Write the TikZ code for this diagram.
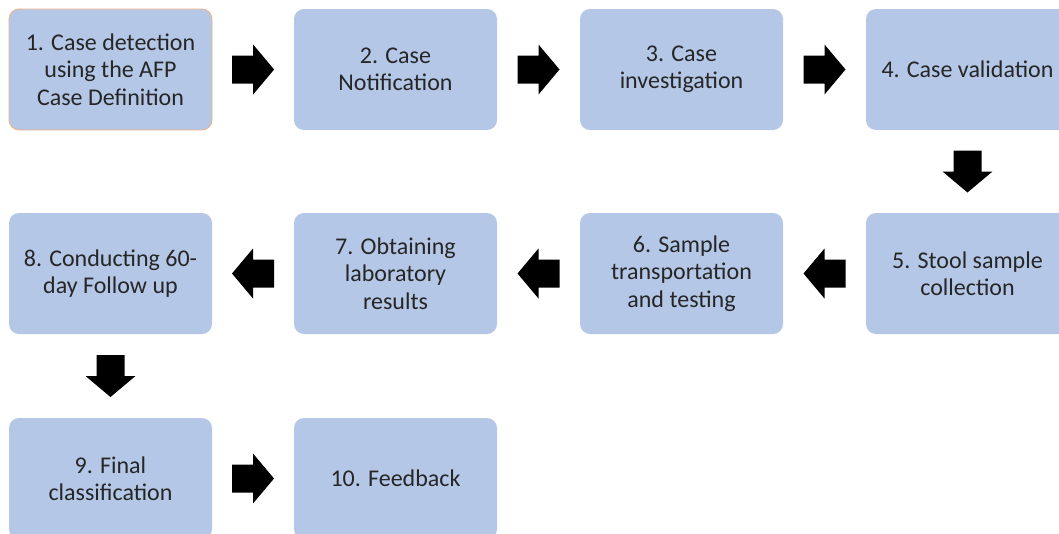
\documentclass[tikz,border=0pt]{standalone}
\usepackage{fontspec}
\setmainfont{Carlito}
\usetikzlibrary{calc}
\definecolor{boxfill}{HTML}{B4C7E7}
\definecolor{boxedge}{HTML}{F4B183}
\definecolor{txt}{HTML}{262626}
\tikzset{
  stepbox/.style={rectangle, rounded corners=10pt, fill=boxfill, draw=none,
    minimum width=203pt, minimum height=121pt, inner sep=0pt,
    align=center, text=txt, font=\fontsize{24}{27.5}\selectfont},
  firstbox/.style={stepbox, draw=boxedge, line width=0.8pt},
  blockarrow/.pic={
    \fill[black] (-21,-14) -- (0,-14) -- (0,-25) -- (21,0) -- (0,25) -- (0,14) -- (-21,14) -- cycle;
  }
}
\begin{document}
\begin{tikzpicture}[x=1pt,y=-1pt]
  \clip (0,0) rectangle (1059,533);
  % row 1
  \node[firstbox] (b1) at (110.5,69.5) {1. Case detection\\using the AFP\\Case Definition};
  \node[stepbox] (b2) at (395.5,69.5) {2. Case\\Notification};
  \node[stepbox] (b3) at (681.5,69.5) {3. Case\\investigation};
  \node[stepbox] (b4) at (967.5,69.5) {4. Case validation};
  % row 2
  \node[stepbox] (b5) at (967.5,273.5) {5. Stool sample\\collection};
  \node[stepbox] (b6) at (681.5,273.5) {6. Sample\\transportation\\and testing};
  \node[stepbox] (b7) at (395.5,273.5) {7. Obtaining\\laboratory\\results};
  \node[stepbox] (b8) at (110.5,273.5) {8. Conducting 60-\\day Follow up};
  % row 3
  \node[stepbox] (b9) at (110.5,478.5) {9. Final\\classification};
  \node[stepbox] (b10) at (395.5,478.5) {10. Feedback};
  % block arrows between consecutive steps
  \pic at ($(b1.east)!0.5!(b2.west)$) {blockarrow};
  \pic at ($(b2.east)!0.5!(b3.west)$) {blockarrow};
  \pic at ($(b3.east)!0.5!(b4.west)$) {blockarrow};
  \pic[rotate=-90] at ($(b4.south)!0.5!(b5.north)$) {blockarrow};
  \pic[rotate=180] at ($(b5.west)!0.5!(b6.east)$) {blockarrow};
  \pic[rotate=180] at ($(b6.west)!0.5!(b7.east)$) {blockarrow};
  \pic[rotate=180] at ($(b7.west)!0.5!(b8.east)$) {blockarrow};
  \pic[rotate=-90] at ($(b8.south)!0.5!(b9.north)$) {blockarrow};
  \pic at ($(b9.east)!0.5!(b10.west)$) {blockarrow};
\end{tikzpicture}
\end{document}
